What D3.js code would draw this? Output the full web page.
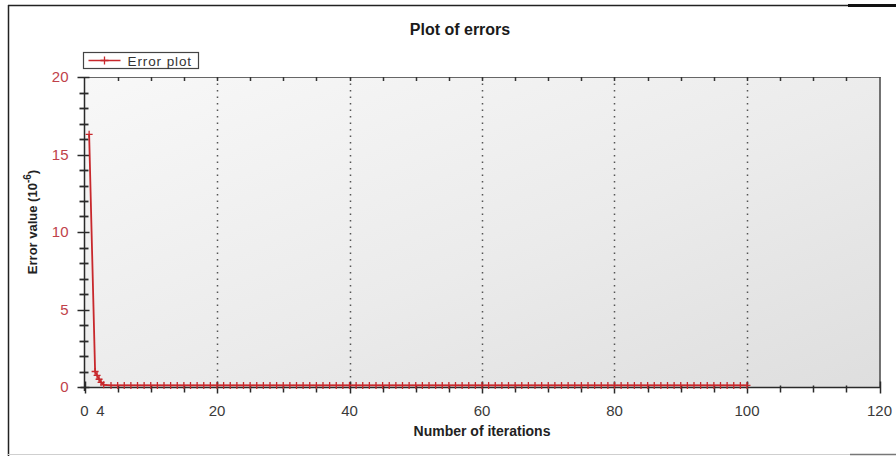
<!DOCTYPE html>
<html>
<head>
<meta charset="utf-8">
<script src="https://cdn.jsdelivr.net/npm/d3@7"></script>
<style>
  html, body { margin: 0; padding: 0; background: #fff; }
  svg { display: block; }
  text { font-family: "Liberation Sans", Arial, sans-serif; }
</style>
</head>
<body>
<svg id="chart" width="896" height="456"></svg>
<script>
// Iteration index of each recorded error sample
const iterations = [
  0.7, 1.6, 1.9, 2.2, 2.5, 2.9,
  4, 5, 6, 7, 8, 9, 10, 11, 12, 13, 14, 15, 16, 17, 18, 19, 20,
  21, 22, 23, 24, 25, 26, 27, 28, 29, 30, 31, 32, 33, 34, 35, 36, 37, 38, 39, 40,
  41, 42, 43, 44, 45, 46, 47, 48, 49, 50, 51, 52, 53, 54, 55, 56, 57, 58, 59, 60,
  61, 62, 63, 64, 65, 66, 67, 68, 69, 70, 71, 72, 73, 74, 75, 76, 77, 78, 79, 80,
  81, 82, 83, 84, 85, 86, 87, 88, 89, 90, 91, 92, 93, 94, 95, 96, 97, 98, 99, 100
];
// Error value at each iteration, in units of 1e-6
const errorValues = [
  16.3, 1.0, 0.75, 0.5, 0.3, 0.14,
  0.1, 0.1, 0.1, 0.1, 0.1, 0.1, 0.1, 0.1, 0.1, 0.1, 0.1, 0.1, 0.1, 0.1, 0.1, 0.1, 0.1,
  0.1, 0.1, 0.1, 0.1, 0.1, 0.1, 0.1, 0.1, 0.1, 0.1, 0.1, 0.1, 0.1, 0.1, 0.1, 0.1, 0.1, 0.1, 0.1, 0.1,
  0.1, 0.1, 0.1, 0.1, 0.1, 0.1, 0.1, 0.1, 0.1, 0.1, 0.1, 0.1, 0.1, 0.1, 0.1, 0.1, 0.1, 0.1, 0.1, 0.1,
  0.1, 0.1, 0.1, 0.1, 0.1, 0.1, 0.1, 0.1, 0.1, 0.1, 0.1, 0.1, 0.1, 0.1, 0.1, 0.1, 0.1, 0.1, 0.1, 0.1,
  0.1, 0.1, 0.1, 0.1, 0.1, 0.1, 0.1, 0.1, 0.1, 0.1, 0.1, 0.1, 0.1, 0.1, 0.1, 0.1, 0.1, 0.1, 0.1, 0.1
];
const xTicks = [0, 20, 40, 60, 80, 100, 120];
const xMinorTicks = [5, 10, 15, 25, 30, 35, 45, 50, 55, 65, 70, 75, 85, 90, 95, 105, 110, 115];
const xGridLines = [20, 40, 60, 80, 100];
const yTicks = [0, 5, 10, 15, 20];
const yMinorTicks = [1, 2, 3, 4, 6, 7, 8, 9, 11, 12, 13, 14, 16, 17, 18, 19];
// Extra axis marker for the convergence point
const convergenceLabel = { at: 2.4, text: "4" };

const seriesName = "Error plot";
const titleText = "Plot of errors";
const xTitle = "Number of iterations";

const svg = d3.select("#chart");
const W = 896, H = 456;
const plot = { left: 84.5, right: 879.5, top: 77, bottom: 387 };

const x = d3.scaleLinear().domain([0, 120]).range([plot.left, plot.right]);
const y = d3.scaleLinear().domain([0, 20]).range([plot.bottom, plot.top]);

const red = "#c8282c";
const axisCol = "#2a2a2a";

// Outer frame
svg.append("line").attr("x1", 8).attr("x2", W).attr("y1", 5.5).attr("y2", 5.5)
  .attr("stroke", "#222").attr("stroke-width", 1.5);
svg.append("line").attr("x1", 848).attr("x2", W).attr("y1", 5.5).attr("y2", 5.5)
  .attr("stroke", "#111").attr("stroke-width", 3);
svg.append("line").attr("x1", 8.5).attr("x2", 8.5).attr("y1", 5).attr("y2", H)
  .attr("stroke", "#222").attr("stroke-width", 1.5);
svg.append("line").attr("x1", 8).attr("x2", W).attr("y1", 454.5).attr("y2", 454.5)
  .attr("stroke", "#cfcfcf").attr("stroke-width", 1);
svg.append("line").attr("x1", 850).attr("x2", W).attr("y1", 454.5).attr("y2", 454.5)
  .attr("stroke", "#777").attr("stroke-width", 1.5);

// Plot background gradient
const defs = svg.append("defs");
const grad = defs.append("linearGradient").attr("id", "bg")
  .attr("x1", "0%").attr("y1", "0%").attr("x2", "100%").attr("y2", "100%");
grad.append("stop").attr("offset", "0%").attr("stop-color", "#f8f8f8");
grad.append("stop").attr("offset", "55%").attr("stop-color", "#ebebeb");
grad.append("stop").attr("offset", "100%").attr("stop-color", "#dedede");

svg.append("rect")
  .attr("x", plot.left).attr("y", plot.top)
  .attr("width", plot.right - plot.left).attr("height", plot.bottom - plot.top)
  .attr("fill", "url(#bg)");

// Dotted vertical grid
svg.append("g").selectAll("line").data(xGridLines).join("line")
  .attr("x1", d => Math.round(x(d)) + 0.5).attr("x2", d => Math.round(x(d)) + 0.5)
  .attr("y1", plot.top).attr("y2", plot.bottom)
  .attr("stroke", "#555").attr("stroke-width", 1.5)
  .attr("stroke-dasharray", "1.5,5");

// Plot frame: top and right edges
svg.append("line").attr("x1", plot.left).attr("x2", plot.right + 1)
  .attr("y1", plot.top + 0.5).attr("y2", plot.top + 0.5)
  .attr("stroke", "#666").attr("stroke-width", 1.2);
svg.append("line").attr("x1", plot.right + 0.5).attr("x2", plot.right + 0.5)
  .attr("y1", plot.top).attr("y2", plot.bottom)
  .attr("stroke", "#444").attr("stroke-width", 1.5);

// Top edge ticks
svg.append("g").selectAll("line").data(xTicks.concat(xMinorTicks).filter(d => d > 0 && d < 120)).join("line")
  .attr("x1", d => Math.round(x(d)) + 0.5).attr("x2", d => Math.round(x(d)) + 0.5)
  .attr("y1", plot.top).attr("y2", plot.top + 4)
  .attr("stroke", "#333").attr("stroke-width", 1.5);

// X axis
const xAxis = svg.append("g").attr("transform", `translate(0,${plot.bottom + 0.5})`);
xAxis.append("line").attr("x1", plot.left - 4).attr("x2", plot.right + 1)
  .attr("stroke", axisCol).attr("stroke-width", 1.5);
xAxis.selectAll(".maj").data(xTicks).join("line").attr("class", "maj")
  .attr("x1", d => Math.round(x(d)) + 0.5).attr("x2", d => Math.round(x(d)) + 0.5)
  .attr("y1", -6).attr("y2", 6).attr("stroke", axisCol).attr("stroke-width", 1.5);
xAxis.selectAll(".min").data(xMinorTicks).join("line").attr("class", "min")
  .attr("x1", d => Math.round(x(d)) + 0.5).attr("x2", d => Math.round(x(d)) + 0.5)
  .attr("y1", -2).attr("y2", 5).attr("stroke", axisCol).attr("stroke-width", 1.5);
xAxis.selectAll("text.tl").data(xTicks).join("text").attr("class", "tl")
  .attr("x", d => x(d)).attr("y", 28)
  .attr("text-anchor", "middle").attr("font-size", 15).attr("fill", "#3a3a3a")
  .text(d => d);
xAxis.append("text")
  .attr("x", x(convergenceLabel.at)).attr("y", 28)
  .attr("text-anchor", "middle").attr("font-size", 15).attr("fill", "#3a3a3a")
  .text(convergenceLabel.text);

// Y axis
const yAxis = svg.append("g").attr("transform", `translate(${plot.left},0)`);
yAxis.append("line").attr("y1", plot.top).attr("y2", plot.bottom + 4)
  .attr("stroke", axisCol).attr("stroke-width", 1.5);
yAxis.selectAll(".maj").data(yTicks).join("line").attr("class", "maj")
  .attr("x1", -7).attr("x2", 5)
  .attr("y1", d => Math.round(y(d)) + 0.5).attr("y2", d => Math.round(y(d)) + 0.5)
  .attr("stroke", axisCol).attr("stroke-width", 1.5);
yAxis.selectAll(".min").data(yMinorTicks).join("line").attr("class", "min")
  .attr("x1", -5).attr("x2", 4)
  .attr("y1", d => Math.round(y(d)) + 0.5).attr("y2", d => Math.round(y(d)) + 0.5)
  .attr("stroke", axisCol).attr("stroke-width", 1.8);
yAxis.selectAll("text").data(yTicks).join("text")
  .attr("x", -16).attr("y", d => y(d) + 5)
  .attr("text-anchor", "end").attr("font-size", 15).attr("fill", "#c0414a")
  .text(d => d);

// Error series
const pts = iterations.map((it, i) => [it, errorValues[i]]);
svg.append("path")
  .attr("d", d3.line().x(d => x(d[0])).y(d => y(d[1]))(pts))
  .attr("fill", "none").attr("stroke", red).attr("stroke-width", 1.8);

const plus = (sel, s) => sel.attr("d", `M${-s},0H${s}M0,${-s}V${s}`);
svg.append("g").selectAll("path").data(pts).join("path")
  .call(plus, 3.5)
  .attr("transform", d => `translate(${x(d[0])},${y(d[1])})`)
  .attr("fill", "none").attr("stroke", red).attr("stroke-width", 1.3);

// Legend
const lg = svg.append("g").attr("transform", "translate(83.5,52.5)");
lg.append("rect").attr("width", 115).attr("height", 16)
  .attr("fill", "#fff").attr("stroke", "#444").attr("stroke-width", 1.2);
lg.append("line").attr("x1", 5).attr("x2", 37).attr("y1", 8).attr("y2", 8)
  .attr("stroke", red).attr("stroke-width", 1.3);
lg.append("path").call(plus, 4).attr("transform", "translate(21,8)")
  .attr("fill", "none").attr("stroke", red).attr("stroke-width", 1.3);
lg.append("text").attr("x", 44).attr("y", 13)
  .attr("font-size", 13.5).attr("letter-spacing", 0.9).attr("fill", "#333")
  .text(seriesName);

// Title
svg.append("text").attr("x", 460).attr("y", 35)
  .attr("text-anchor", "middle").attr("font-size", 16).attr("font-weight", "bold")
  .attr("fill", "#1a1a1a").text(titleText);

// Axis titles
svg.append("text").attr("x", (plot.left + plot.right) / 2).attr("y", 436)
  .attr("text-anchor", "middle").attr("font-size", 14).attr("font-weight", "bold")
  .attr("fill", "#222").text(xTitle);

const yt = svg.append("text")
  .attr("transform", "translate(37,222) rotate(-90)")
  .attr("text-anchor", "middle").attr("font-size", 13).attr("font-weight", "bold")
  .attr("fill", "#222");
yt.append("tspan").text("Error value (10");
yt.append("tspan").attr("dy", -6).attr("font-size", 10).text("-6");
yt.append("tspan").attr("dy", 6).text(")");
</script>
</body>
</html>
